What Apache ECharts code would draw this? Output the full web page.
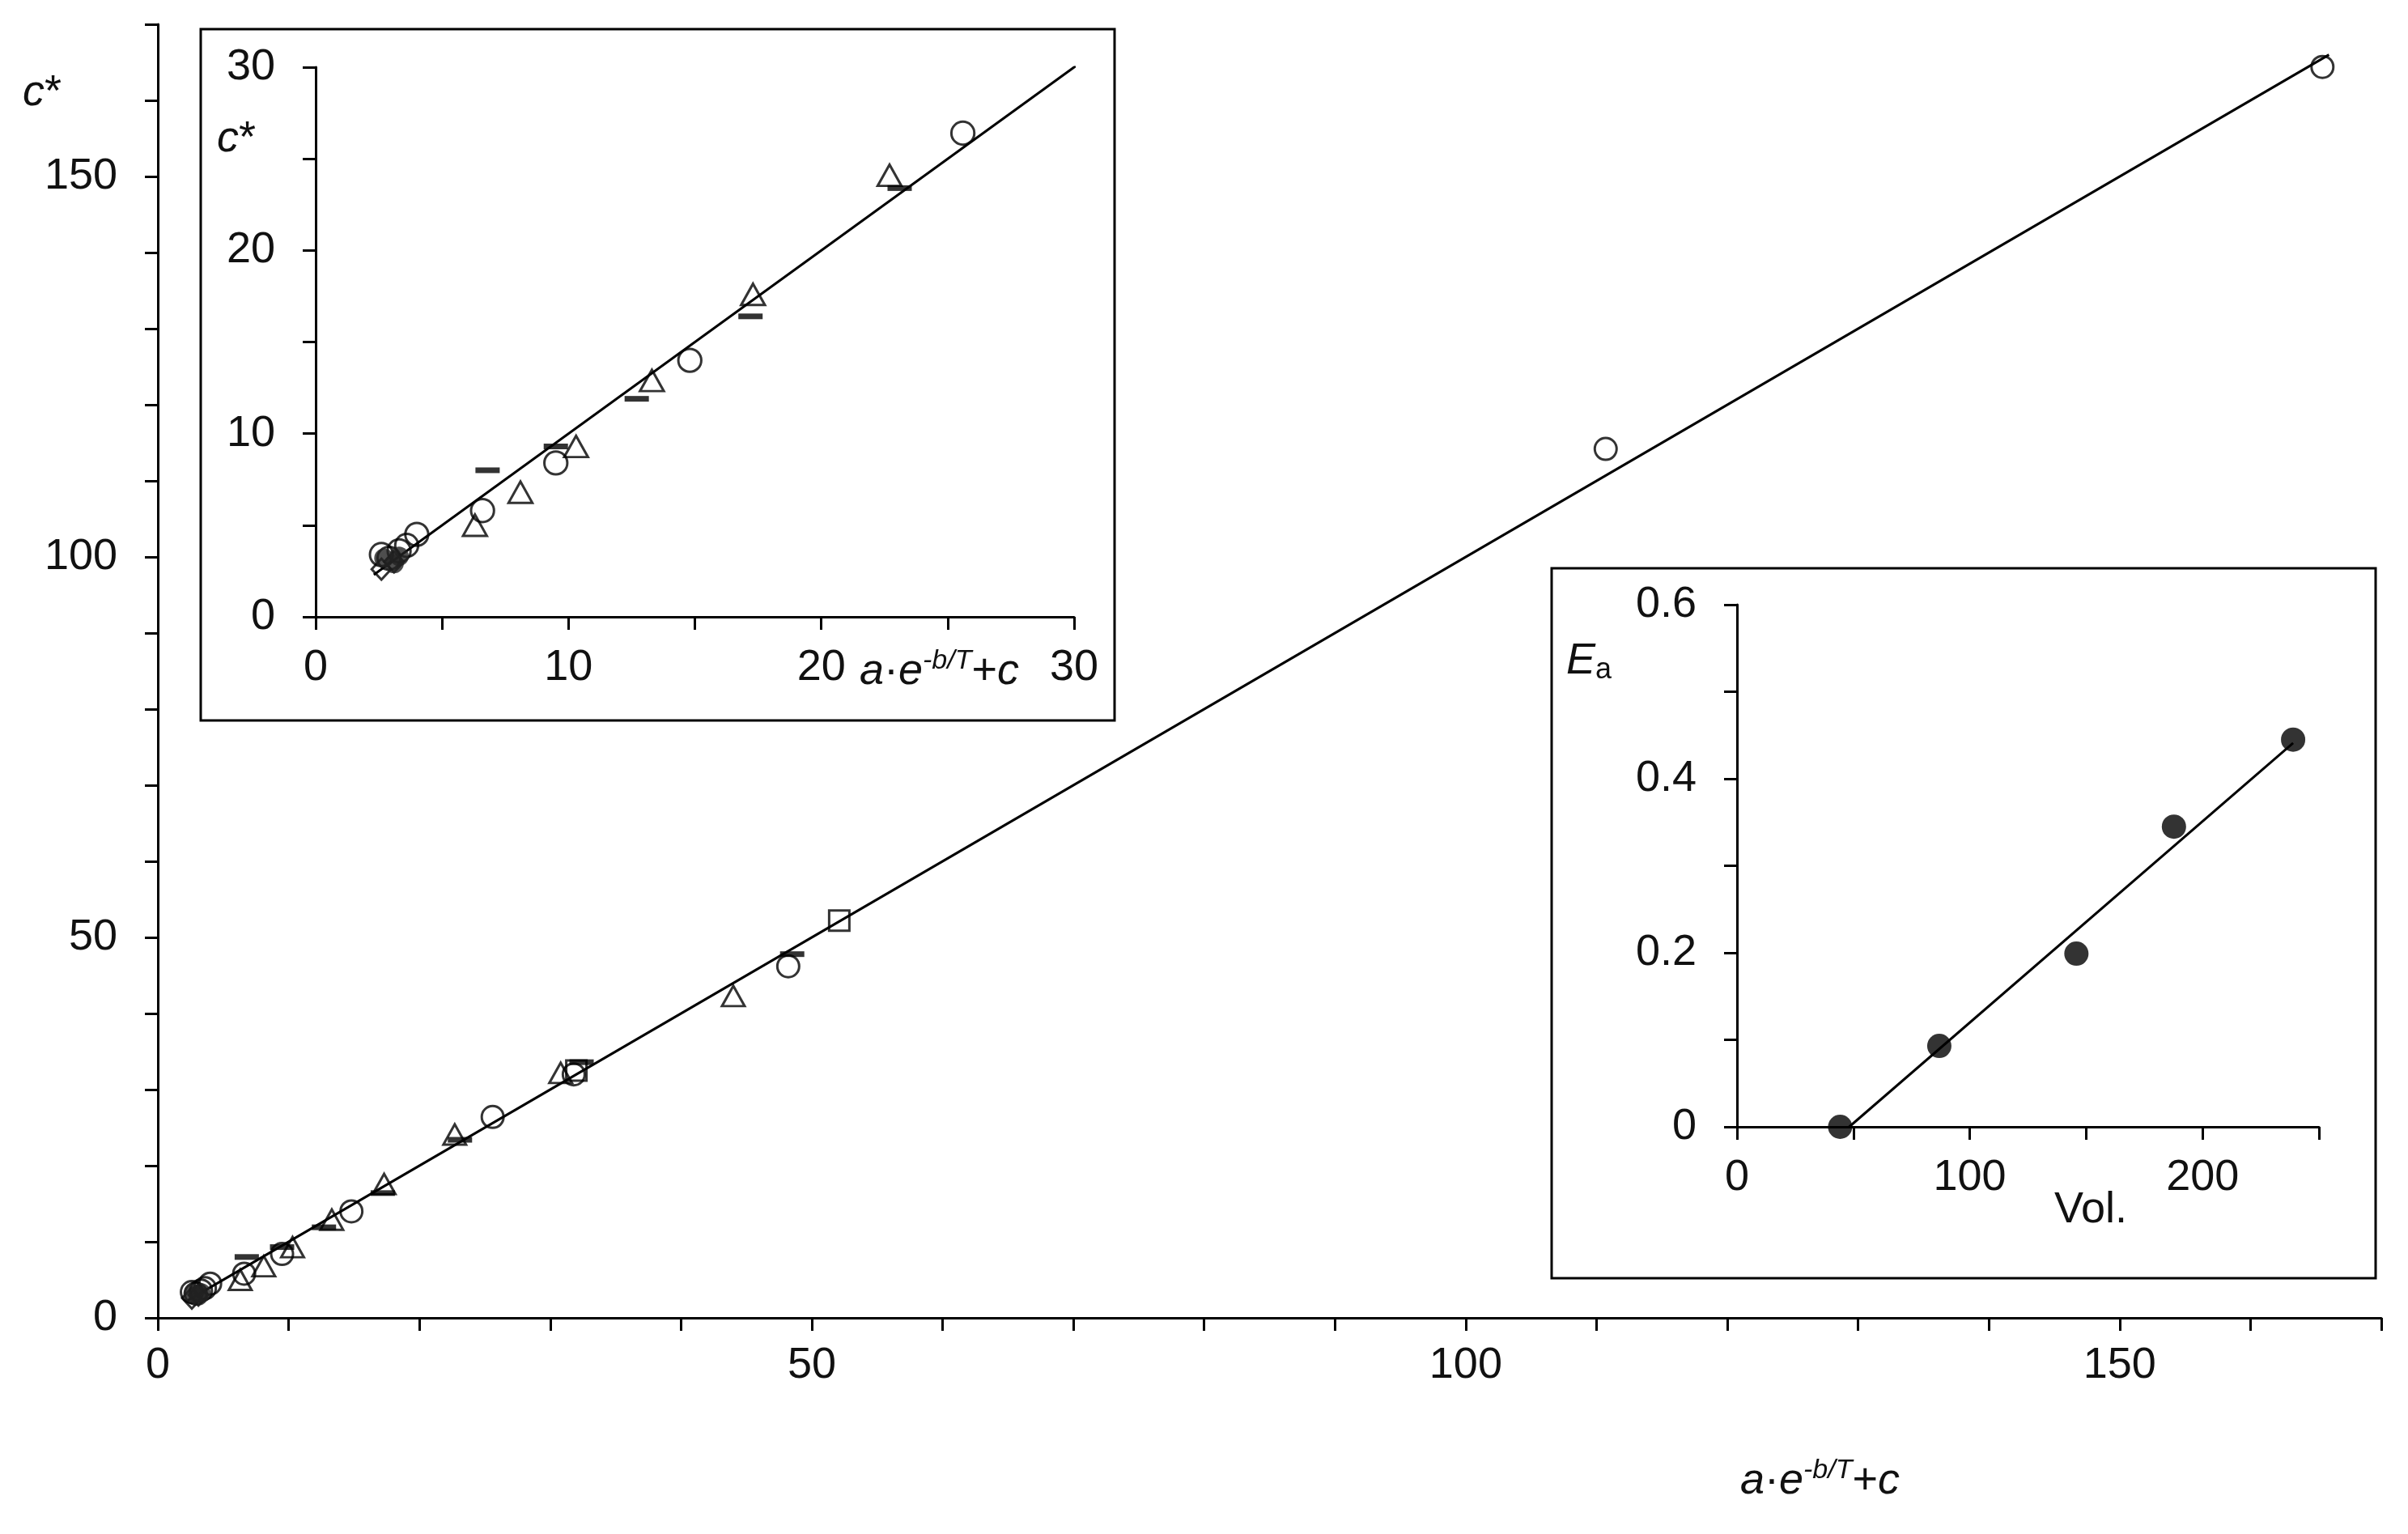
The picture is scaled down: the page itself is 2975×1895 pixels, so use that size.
<!DOCTYPE html>
<html>
<head>
<meta charset="utf-8">
<script src="https://cdn.jsdelivr.net/npm/echarts@6/dist/echarts.min.js"></script>
<style>html,body{margin:0;padding:0;background:#fff}#chart{width:2975px;height:1895px}</style>
</head>
<body>
<div id="chart"></div>
<script>
// data
var circles = [[165.5,164.4],[110.7,114.2],[48.2,46.2],[31.8,32],[25.6,26.4],[14.8,14],[9.5,8.4],[6.6,5.8],[4,4.5],[3.6,3.9],[3.3,3.6],[2.9,3.2],[2.6,3.4]];
var triangles = [[44,42.3],[30.8,32.2],[22.7,24.1],[17.3,17.6],[13.3,12.9],[10.3,9.3],[8.1,6.8],[6.3,5]];
var dashes = [[48.5,47.8],[32.4,33.6],[23.1,23.4],[17.2,16.4],[12.7,11.9],[9.5,9.3],[6.8,8]];
var squares = [[52.1,52.2],[32,32.5]];
var diamonds = [[2.6,2.6],[3.1,3.0]];
var filled = [[2.7,3.2],[3.1,2.9],[3.3,3.3]];
var fitLine = [[2.3,2.3],[166,166]];
var volX = [44.3,86.9,145.8,187.7,238.9];
var eaY = [0,0.093,0.199,0.345,0.445];
var eaLine = [[48.2,0],[238.9,0.441]];

var FONT = 'Liberation Sans';
var myChart = echarts.init(document.getElementById('chart'));

function axisBase(min, max, interval, show, margin){
	return {
		type:'value', min:min, max:max, interval:interval, z:10,
		splitLine:{show:false},
		axisLine:{show:true, onZero:false, lineStyle:{color:'#000', width:3}},
		axisTick:{show:true, length:16, lineStyle:{color:'#000', width:3}},
		axisLabel:{fontFamily:FONT, fontSize:54, color:'#111', margin:margin,
			formatter:function(v){
				var r = Math.round(v*1000)/1000;
				return show(r) ? String(r) : '';
			}}
	};
}
function every(n){ return function(v){ return Math.abs(Math.round(v/n)*n - v) < 1e-6; }; }

var xAxes = [], yAxes = [];
var a;
a = axisBase(0,170,10,every(50),32); a.gridIndex=0; xAxes.push(a);
a = axisBase(0,170,10,every(50),50); a.gridIndex=0; yAxes.push(a);
a = axisBase(0,30,5,every(10),36); a.gridIndex=1; xAxes.push(a);
a = axisBase(0,30,5,every(10),50); a.gridIndex=1; yAxes.push(a);
a = axisBase(0,250,50,every(100),36); a.gridIndex=2; xAxes.push(a);
a = axisBase(0,0.6,0.1,every(0.2),50); a.gridIndex=2; yAxes.push(a);

function pts(arr, g, style){
	var s = {type:'scatter', xAxisIndex:g, yAxisIndex:g, data:arr, clip:true, z:5};
	for (var k in style) s[k] = style[k];
	return s;
}
var hollow = {color:'rgba(0,0,0,0)', borderColor:'#000', borderWidth:3};
var series = [];
[0,1].forEach(function(g){
	var sc = g === 0 ? 1 : 1.05;
	series.push({type:'line', xAxisIndex:g, yAxisIndex:g, data:fitLine, symbol:'none', clip:true,
		lineStyle:{color:'#000', width:3}, z:3});
	series.push(pts(circles, g, {symbol:'circle', symbolSize:27*sc, itemStyle:hollow}));
	series.push(pts(triangles, g, {symbol:'triangle', symbolSize:[28*sc,25*sc], itemStyle:hollow}));
	series.push(pts(dashes, g, {symbol:'rect', symbolSize:[30,7], itemStyle:{color:'#000'}}));
	series.push(pts(squares, g, {symbol:'rect', symbolSize:25, itemStyle:hollow}));
	series.push(pts(diamonds, g, {symbol:'diamond', symbolSize:[24,26], itemStyle:hollow}));
	series.push(pts(filled, g, {symbol:'circle', symbolSize:24, itemStyle:{color:'#222'}}));
});
series.push({type:'line', xAxisIndex:2, yAxisIndex:2, data:eaLine, symbol:'none',
	lineStyle:{color:'#000', width:3}, z:3});
series.push({type:'scatter', xAxisIndex:2, yAxisIndex:2, symbol:'circle', symbolSize:30,
	data:volX.map(function(v,i){ return [v, eaY[i]]; }), itemStyle:{color:'#000'}, z:5});

function txt(x, y, text, rich){
	return {type:'text', left:x, top:y, z:20,
		style:{text:text, fontFamily:FONT, fontSize:54, fill:'#111', rich:rich}};
}
var expRich = {
	i:{fontFamily:FONT, fontSize:54, fontStyle:'italic', fill:'#111'},
	n:{fontFamily:FONT, fontSize:54, fill:'#111'},
	s:{fontFamily:FONT, fontSize:34, fontStyle:'italic', fill:'#111', verticalAlign:'top', padding:[0,0,26,0]},
	sub:{fontFamily:FONT, fontSize:36, fill:'#111', padding:[22,0,0,0]}
};
var expText = '{i|a}{n|·}{i|e}{s|-b/T}{n|+}{i|c}';

option = {
	animation:false,
	backgroundColor:'#fff',
	grid:[
		{left:195, top:30, width:2747, height:1598},
		{left:390, top:83, width:937, height:679},
		{left:2146, top:747, width:719, height:645}
	],
	xAxis:xAxes,
	yAxis:yAxes,
	series:series,
	graphic:[
		{type:'rect', shape:{x:248, y:36, width:1129, height:854}, z:-1,
			style:{fill:'#fff', stroke:'#000', lineWidth:3}},
		{type:'rect', shape:{x:1917, y:702, width:1018, height:877}, z:-1,
			style:{fill:'#fff', stroke:'#000', lineWidth:3}},
		txt(28, 88, '{i|c}{n|*}', expRich),
		txt(268, 145, '{i|c}{n|*}', expRich),
		txt(2150, 1800, expText, expRich),
		txt(1062, 800, expText, expRich),
		txt(1935, 790, '{i|E}{sub|a}', expRich),
		txt(2538, 1468, '{n|Vol.}', expRich)
	]
};
myChart.setOption(option);
</script>
</body>
</html>
